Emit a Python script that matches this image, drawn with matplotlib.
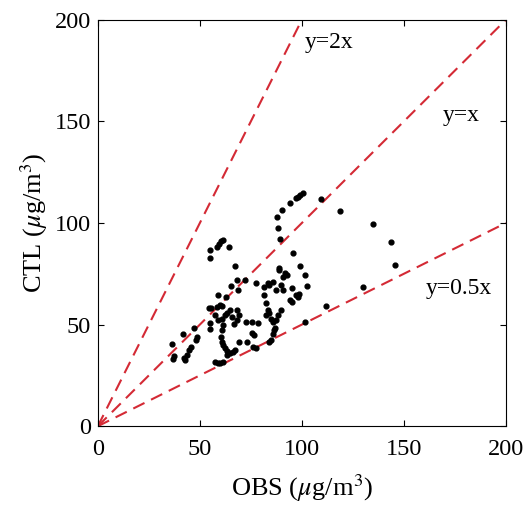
import numpy as np
import matplotlib
matplotlib.use("Agg")
import matplotlib.pyplot as plt

plt.rcParams['font.family'] = ['Liberation Serif', 'DejaVu Serif']
plt.rcParams['mathtext.fontset'] = 'stix'

obs = [36.3, 36.9, 37.4, 41.6, 42.1, 42.6, 43.8, 44.9, 45.9, 47.1, 47.9, 48.6,
       55.2, 54.4, 55.7, 54.9, 54.9, 58.6, 59.4, 60.4, 61.2, 64.1, 58.7, 62.7,
       59.9, 60.7, 58.2, 57.4, 59.1, 60.7, 62.1, 63.4, 64.6, 65.7, 66.6, 61.6,
       61.0, 60.4, 60.7, 61.6, 62.4, 63.4, 64.7, 66.1, 67.4, 57.4, 58.7, 60.1,
       61.4, 63.2, 65.4, 67.4, 68.0, 68.7, 68.4, 69.0, 68.2, 69.4, 72.0, 72.7,
       73.2, 75.4, 75.7, 76.5, 76.0, 77.7, 77.4, 78.6, 54.9,
       81.5, 83.2, 84.0, 81.5, 82.4, 82.4, 83.5, 84.0, 84.9, 86.0, 86.5, 86.0,
       84.9, 84.0, 88.2, 87.4, 87.0, 87.4, 86.0, 88.7, 89.0, 90.0, 91.0, 92.0,
       92.8, 90.7, 89.9, 94.0, 95.0, 95.0, 95.7, 97.3, 98.2, 98.7, 99.0, 101.5,
       102.7, 101.5,
       87.7, 88.2, 89.4, 90.3, 94.0, 97.0, 98.2, 99.3, 100.7, 109.5,
       118.6, 134.8, 143.9, 145.9, 130.1, 111.8]
ctl = [40.7, 33.3, 34.5, 45.2, 33.5, 32.5, 35.0, 37.4, 39.1, 48.1, 42.4, 43.7,
       50.9, 58.0, 58.0, 86.7, 82.6, 88.3, 89.9, 91.3, 91.6, 88.0, 64.5, 63.7,
       59.6, 59.1, 58.5, 54.7, 52.2, 53.0, 54.7, 55.8, 57.1, 53.9, 50.2, 49.8,
       47.3, 44.0, 41.5, 39.9, 38.3, 37.1, 36.1, 36.6, 37.4, 31.7, 31.2, 30.9,
       31.5, 35.0, 69.1, 79.0, 71.9, 67.0, 57.1, 54.7, 52.2, 41.5, 71.9, 51.4,
       41.5, 51.4, 46.0, 44.8, 39.1, 38.3, 70.6, 50.6, 47.8,
       68.6, 70.3, 69.5, 64.5, 60.4, 54.7, 57.1, 55.5, 53.0, 51.4, 47.3, 45.6,
       42.4, 41.5, 54.7, 52.2, 48.1, 67.0, 71.1, 76.8, 77.7, 69.5, 73.6, 75.2,
       74.4, 67.0, 57.1, 62.1, 61.2, 67.8, 85.1, 64.5, 63.7, 65.3, 78.8, 74.4,
       69.0, 51.4,
       103.1, 97.4, 92.0, 106.4, 109.7, 112.2, 113.0, 113.8, 114.6, 111.7,
       106.1, 99.3, 90.5, 79.3, 68.3, 59.1]

slopes = [2, 1, 0.5]
slope_labels = ['y=2x', 'y=x', 'y=0.5x']
label_pos = [(101.5, 189), (169, 153), (161, 68)]

fig = plt.figure(figsize=(5.29, 5.11), dpi=100)
ax = fig.add_axes([0.185, 0.166, 0.771, 0.795])

xx = np.array([0, 200])
for k in slopes:
    ax.plot(xx, k * xx, color='#d42a35', ls=(0, (6, 3.5)), lw=1.5, zorder=1)

ax.scatter(obs, ctl, s=12, color='black', zorder=2)

for lab, (tx, ty) in zip(slope_labels, label_pos):
    ax.text(tx, ty, lab, fontsize=17, va='center', ha='left')

ax.set_xlim(0, 200)
ax.set_ylim(0, 200)
ax.set_xticks([0, 50, 100, 150, 200])
ax.set_yticks([0, 50, 100, 150, 200])
ax.tick_params(direction='in', top=True, right=True, labelsize=17.5, length=4, width=0.8)
ax.tick_params(axis='x', pad=9)
ax.tick_params(axis='y', pad=5)
ax.set_xlabel(r'OBS ($\mu$g/m$^3$)', fontsize=19, labelpad=9)
ax.set_ylabel(r'CTL ($\mu$g/m$^3$)', fontsize=19, labelpad=3)
for sp in ax.spines.values():
    sp.set_linewidth(0.8)

fig.savefig('out.png', dpi=100)
